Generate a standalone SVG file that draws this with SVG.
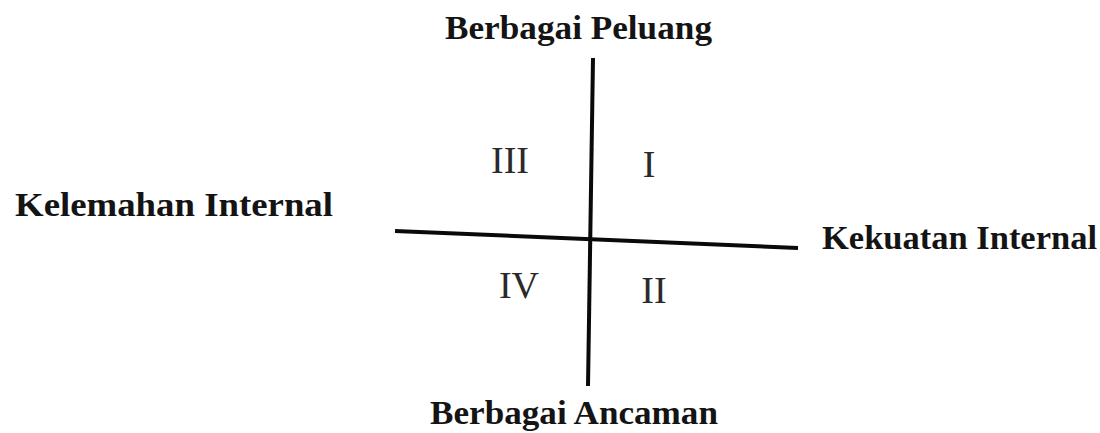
<svg xmlns="http://www.w3.org/2000/svg" width="1100" height="433" viewBox="0 0 1100 433">
<style>
.lbl{font-family:"Liberation Serif","Times New Roman",serif;font-weight:bold;font-size:33px;fill:#141414}
.q{font-family:"Liberation Serif","Times New Roman",serif;font-size:38px;fill:#2a2a2a;text-anchor:middle}
.ax{stroke:#0a0a0a;stroke-width:4;stroke-linecap:butt;fill:none}
</style>
<rect width="1100" height="433" fill="#ffffff"/>
<g id="connectors">
<line class="ax" x1="593" y1="58" x2="588" y2="386"/>
<line class="ax" x1="395" y1="231" x2="798" y2="248"/>
</g>
<g id="top"><text class="lbl" x="445" y="39" textLength="267" lengthAdjust="spacingAndGlyphs">Berbagai Peluang</text></g>
<g id="left"><text class="lbl" x="15" y="216" textLength="318" lengthAdjust="spacingAndGlyphs">Kelemahan Internal</text></g>
<g id="right"><text class="lbl" x="822" y="249" textLength="275" lengthAdjust="spacingAndGlyphs">Kekuatan Internal</text></g>
<g id="bottom"><text class="lbl" x="430" y="424" textLength="288" lengthAdjust="spacingAndGlyphs">Berbagai Ancaman</text></g>
<g id="q3"><text class="q" x="510" y="173">III</text></g>
<g id="q1"><text class="q" x="649" y="177">I</text></g>
<g id="q4"><text class="q" x="519" y="298">IV</text></g>
<g id="q2"><text class="q" x="654" y="303">II</text></g>
</svg>
